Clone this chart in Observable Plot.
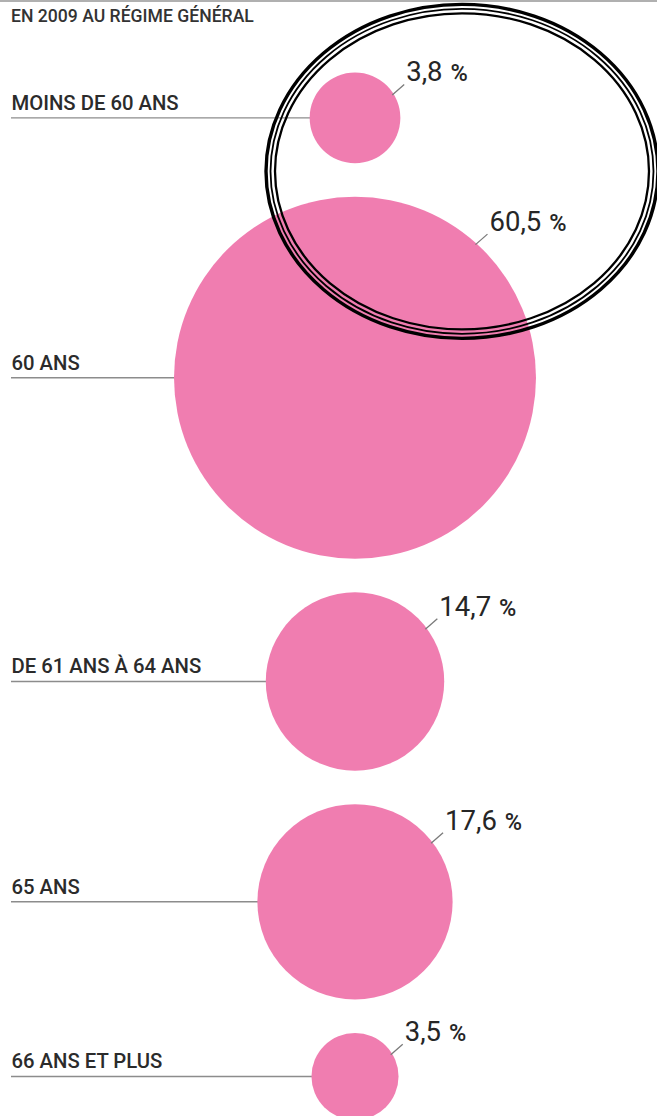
<!DOCTYPE html>
<html><head><meta charset="utf-8">
<script src="https://cdn.jsdelivr.net/npm/d3@7"></script>
<script src="https://cdn.jsdelivr.net/npm/@observablehq/plot@0.6"></script>
<style>
body{margin:0;background:#fff;width:657px;overflow:hidden}
#title{height:30px;border-top:2px solid #b0b0b0;box-sizing:border-box;padding:4px 0 0 11px;font-family:Roboto,sans-serif;font-weight:500;font-size:17.6px;line-height:20px;color:#333;white-space:nowrap}
#chart svg{display:block;overflow:visible}
</style></head><body>
<div id="title">EN 2009 AU RÉGIME GÉNÉRAL</div>
<div id="chart"></div>
<script>
// Data
const categories = ["MOINS DE 60 ANS", "60 ANS", "DE 61 ANS À 64 ANS", "65 ANS", "66 ANS ET PLUS"];
const values = [3.8, 60.5, 14.7, 17.6, 3.5];
const valueLabels = ["3,8", "60,5", "14,7", "17,6", "3,5"];

// Layout
const W = 657, H = 1086;
const maxR = 181, gap = 33.5, top0 = 42, centerX = 354.5, labelX = 11;
const rFn = d3.scaleSqrt().domain([0, d3.max(values)]).range([0, maxR]);
let cursor = top0;
const rows = categories.map((c, i) => {
  const r = rFn(values[i]);
  const cy = cursor + r;
  cursor += 2 * r + gap;
  return {label: c, value: values[i], valueLabel: valueLabels[i], cx: centerX, cy};
});

function leaders(index, scales) {
  const g = d3.create("svg:g");
  rows.forEach(d => {
    const x0 = scales.x(d.cx), y0 = scales.y(d.cy), r = scales.r(d.value);
    const a = -(25 + r / 8) * Math.PI / 180;
    const sx = x0 + (r - 1.5) * Math.cos(a), sy = y0 + (r - 1.5) * Math.sin(a);
    const ex = sx + 12, ey = sy - 10.5;
    g.append("line").attr("x1", sx).attr("y1", sy).attr("x2", ex).attr("y2", ey)
      .attr("stroke", "#7a7a7a").attr("stroke-width", 1.3);
    const t = g.append("text").attr("x", ex + 2).attr("y", ey - 3).attr("text-anchor", "start")
      .attr("font-family", "Roboto, sans-serif").attr("fill", "#262626");
    t.append("tspan").text(d.valueLabel).style("font-size", "27.5px").style("font-weight", 400);
    t.append("tspan").text("%").attr("dx", 8).style("font-size", "23.5px").style("font-weight", 500);
  });
  return g.node();
}

function annotation(index, scales) {
  const g = d3.create("svg:g").attr("fill", "none").attr("stroke", "#000");
  const cx = scales.x(rows[0].cx) + 107.5, cy = scales.y(rows[0].cy) + 54;
  [[196, 167, 3.4], [191.5, 162.5, 1.8], [187, 158, 2.3]].forEach(([rx, ry, sw]) => {
    g.append("ellipse").attr("cx", cx).attr("cy", cy).attr("rx", rx).attr("ry", ry).attr("stroke-width", sw);
  });
  return g.node();
}

const chart = Plot.plot({
  width: W, height: H, margin: 0,
  style: {background: "transparent", overflow: "visible"},
  x: {domain: [0, W], range: [0, W], axis: null},
  y: {domain: [0, H], range: [0, H], axis: null},
  r: {type: "sqrt", domain: [0, d3.max(values)], range: [0, maxR]},
  marks: [
    Plot.ruleY(rows, {y: "cy", x1: labelX, x2: "cx", stroke: "#8c8c8c", strokeWidth: 1.4}),
    Plot.dot(rows, {x: "cx", y: "cy", r: "value", fill: "#f07db0", stroke: "none"}),
    Plot.text(rows, {x: labelX, y: "cy", text: "label", textAnchor: "start", lineAnchor: "bottom", dy: -8,
      fontFamily: "Roboto, sans-serif", fontWeight: 500, fontSize: 20.3, fill: "#2b2b2b"}),
    leaders,
    annotation
  ]
});
document.getElementById("chart").appendChild(chart);
</script>
</body></html>
